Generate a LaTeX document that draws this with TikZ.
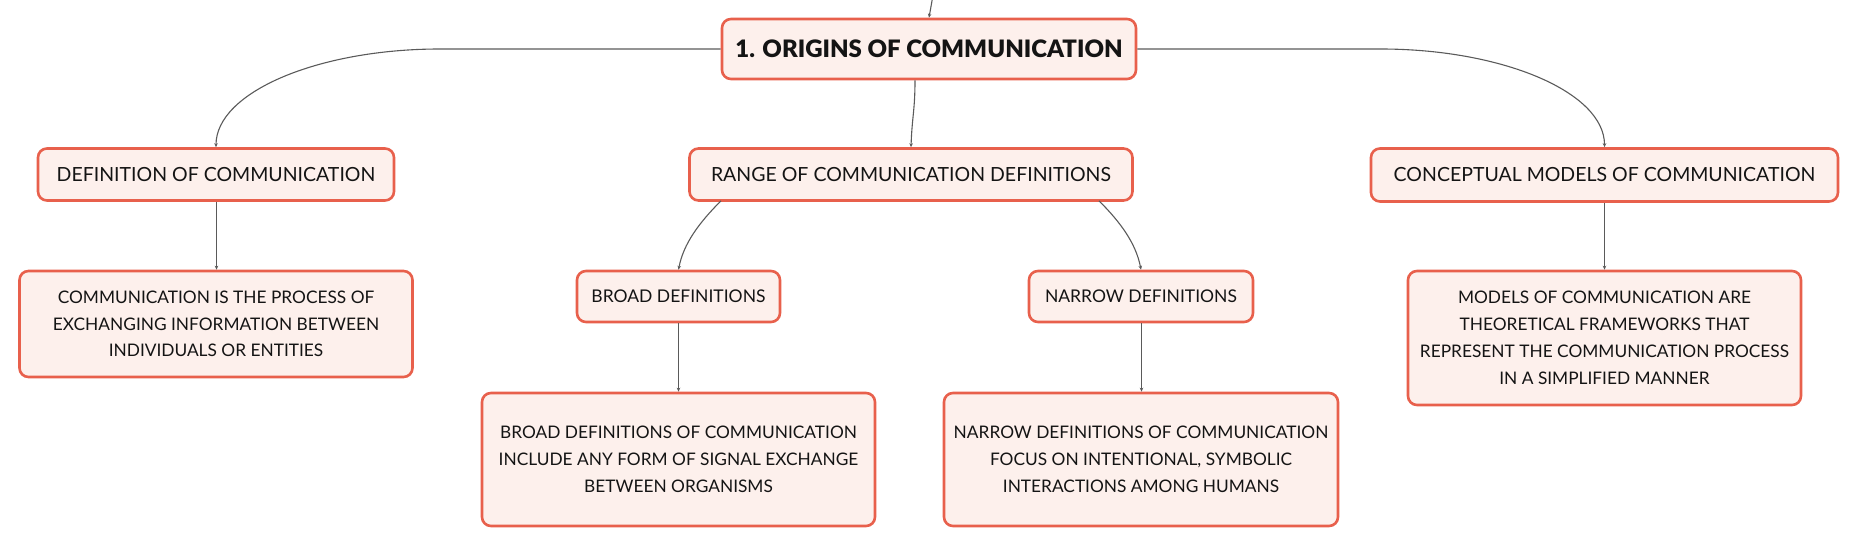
\documentclass[tikz,border=0pt]{standalone}
\usepackage{fontspec}
\setmainfont{Lato}
\newfontfamily\heavyfont{Lato Black}
\usetikzlibrary{arrows.meta}
\definecolor{boxline}{RGB}{232,96,76}
\definecolor{boxfill}{RGB}{253,240,236}
\definecolor{connline}{RGB}{90,90,90}
\definecolor{txt}{RGB}{20,20,20}
\begin{document}
\begin{tikzpicture}[x=1pt,y=1pt,
  box/.style={draw=boxline,fill=boxfill,line width=2.6pt,rounded corners=9pt,
    inner sep=0pt,align=center,text=txt,anchor=center},
  head/.style={box,font=\fontsize{19.5}{24}\selectfont},
  desc/.style={box,font=\fontsize{17.3}{26.8}\selectfont},
  rootbox/.style={box,font=\fontsize{24}{30}\heavyfont},
  conn/.style={draw=connline,line width=1.1pt,-{Stealth[length=4pt,width=3.5pt]}}]
\useasboundingbox (0,0) rectangle (1858,549);

\node[rootbox,minimum width=414pt,minimum height=60pt] (root) at (929,500) {1. ORIGINS OF COMMUNICATION};
\node[head,minimum width=356pt,minimum height=52pt] (def) at (216,374.5) {DEFINITION OF COMMUNICATION};
\node[head,minimum width=443pt,minimum height=52pt] (range) at (911,374.5) {RANGE OF COMMUNICATION DEFINITIONS};
\node[head,minimum width=467pt,minimum height=53pt] (concept) at (1604.5,374) {CONCEPTUAL MODELS OF COMMUNICATION};
\node[desc,minimum width=393pt,minimum height=106pt] (comm) at (216,225) {COMMUNICATION IS THE PROCESS OF\\EXCHANGING INFORMATION BETWEEN\\INDIVIDUALS OR ENTITIES};
\node[head,minimum width=203pt,minimum height=51pt,font=\fontsize{17.5}{22}\selectfont] (broad) at (678.5,252.5) {BROAD DEFINITIONS};
\node[head,minimum width=224pt,minimum height=51pt,font=\fontsize{17.5}{22}\selectfont] (narrow) at (1141,252.5) {NARROW DEFINITIONS};
\node[desc,minimum width=393pt,minimum height=133pt] (broaddesc) at (678.5,89.5) {BROAD DEFINITIONS OF COMMUNICATION\\INCLUDE ANY FORM OF SIGNAL EXCHANGE\\BETWEEN ORGANISMS};
\node[desc,minimum width=394pt,minimum height=133pt] (narrowdesc) at (1141,89.5) {NARROW DEFINITIONS OF COMMUNICATION\\FOCUS ON INTENTIONAL, SYMBOLIC\\INTERACTIONS AMONG HUMANS};
\node[desc,minimum width=393pt,minimum height=134pt] (models) at (1604.5,211) {MODELS OF COMMUNICATION ARE\\THEORETICAL FRAMEWORKS THAT\\REPRESENT THE COMMUNICATION PROCESS\\IN A SIMPLIFIED MANNER};

\coordinate (topin) at (935,565);
\draw[conn] (topin) -- (root.north);
\draw[conn] ([xshift=-14pt]root.south) .. controls +(0,-30) and +(1,30) .. (range.north);
\draw[conn] (root.west) -- ([xshift=224pt]def.north |- root.west)
  .. controls ([xshift=102pt]def.north |- root.west) and ([yshift=55pt]def.north) .. (def.north);
\draw[conn] (root.east) -- ([xshift=-224pt]concept.north |- root.east)
  .. controls ([xshift=-102pt]concept.north |- root.east) and ([yshift=55pt]concept.north) .. (concept.north);
\draw[conn] ([xshift=0.5pt]def.south) -- ([xshift=0.5pt]comm.north);
\draw[conn] (concept.south) -- (models.north);
\draw[conn] ([xshift=-190pt,yshift=1pt]range.south) .. controls +(-22,-22) and +(5,26) .. (broad.north);
\draw[conn] ([xshift=188pt,yshift=1pt]range.south) .. controls +(22,-22) and +(-5,26) .. (narrow.north);
\draw[conn] (broad.south) -- (broaddesc.north);
\draw[conn] ([xshift=0.5pt]narrow.south) -- ([xshift=0.5pt]narrowdesc.north);
\end{tikzpicture}
\end{document}
